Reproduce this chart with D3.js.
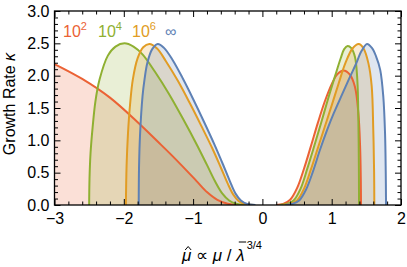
<html>
<head>
  <meta charset="utf-8" />
  <script src="https://d3js.org/d3.v7.min.js"></script>
</head>
<body style="margin: 0; background: white">
<script>

// legend labels, one per series
let seriesLabels = ['10', '10', '10', '\u221E']
let seriesSup = ['2', '4', '6', '']

// [mu, kappa] points, left and right branch for each series
let redLeft = [[-3.0,2.18],[-2.6,1.95],[-2.2,1.66],[-1.8,1.28],[-1.5,0.97],[-1.3,0.76],[-1.1,0.54],
  [-0.95,0.37],[-0.8,0.20],[-0.65,0.08],[-0.5,0.02],[-0.35,0]]
let greenLeft = [[-2.50,0],[-2.495,0.4],[-2.48,0.8],[-2.45,1.2],[-2.41,1.6],[-2.35,1.94],[-2.23,2.31],[-2.12,2.45],
  [-1.99,2.50],[-1.86,2.45],[-1.73,2.33],[-1.55,2.06],[-1.35,1.72],[-1.15,1.34],[-0.95,0.94],[-0.80,0.62],
  [-0.68,0.36],[-0.58,0.18],[-0.48,0.07],[-0.38,0.02],[-0.25,0]]
let orangeLeft = [[-1.97,0],[-1.96,0.6],[-1.94,1.1],[-1.91,1.55],[-1.87,1.94],[-1.80,2.27],[-1.72,2.44],[-1.63,2.49],
  [-1.52,2.42],[-1.39,2.22],[-1.22,1.92],[-1.05,1.58],[-0.88,1.22],[-0.72,0.87],[-0.60,0.58],[-0.50,0.33],
  [-0.42,0.16],[-0.34,0.06],[-0.25,0.015],[-0.12,0]]
let blueLeft = [[-1.785,0],[-1.78,0.6],[-1.765,1.1],[-1.73,1.68],[-1.70,1.95],[-1.66,2.2],[-1.59,2.41],[-1.51,2.49],
  [-1.42,2.43],[-1.30,2.25],[-1.15,1.96],[-1.0,1.64],[-0.84,1.28],[-0.69,0.93],[-0.57,0.63],[-0.47,0.37],
  [-0.39,0.18],[-0.31,0.07],[-0.22,0.015],[-0.10,0]]

let redRight = [[0.2,0],[0.3,0.015],[0.4,0.08],[0.5,0.26],[0.6,0.56],[0.7,0.91],[0.8,1.27],[0.9,1.60],
  [1.0,1.87],[1.08,2.02],[1.17,2.08],[1.26,2.02],[1.335,1.83],[1.385,1.42],[1.41,0.9],[1.42,0.4],[1.423,0]]
let greenRight = [[0.25,0],[0.35,0.015],[0.45,0.07],[0.55,0.25],[0.65,0.57],[0.75,0.92],[0.85,1.28],[0.95,1.65],
  [1.05,2.0],[1.13,2.27],[1.18,2.41],[1.23,2.46],[1.28,2.43],[1.336,2.29],[1.37,1.93],[1.385,1.3],
  [1.392,0.6],[1.394,0]]
let orangeRight = [[0.3,0],[0.4,0.015],[0.5,0.07],[0.6,0.25],[0.7,0.55],[0.8,0.88],[0.9,1.21],[1.0,1.54],
  [1.1,1.88],[1.2,2.2],[1.3,2.42],[1.39,2.49],[1.46,2.42],[1.53,2.19],[1.577,1.84],
  [1.60,1.16],[1.612,0.5],[1.615,0]]
let blueRight = [[0.33,0],[0.43,0.015],[0.53,0.07],[0.63,0.24],[0.73,0.52],[0.83,0.85],[0.93,1.15],[1.03,1.42],
  [1.15,1.71],[1.25,1.95],[1.35,2.18],[1.43,2.38],[1.51,2.49],[1.58,2.43],[1.64,2.3],[1.70,2.09],
  [1.745,1.67],[1.77,1.1],[1.78,0.5],[1.784,0]]

let xMajor = [-3, -2, -1, 0, 1, 2]
let yMajor = [0, 0.5, 1, 1.5, 2, 2.5, 3]

let colors = ['#EB6235', '#8FB032', '#E19C24', '#5E81B5']
let branches = [[redLeft, redRight], [greenLeft, greenRight], [orangeLeft, orangeRight], [blueLeft, blueRight]]

let font = "'Liberation Sans', Arial, sans-serif"

var svg = d3.select("body").append("svg")
  .attr("width", 407)
  .attr("height", 267)
  .style("font-family", font)

let x = d3.scaleLinear().domain([-3, 2]).range([54.5, 401])
let y = d3.scaleLinear().domain([0, 3]).range([205, 11])

svg.append("clipPath").attr("id", "plotclip")
  .append("rect")
  .attr("x", x(-3)).attr("y", y(3))
  .attr("width", x(2) - x(-3)).attr("height", y(0) - y(3))

let curve = d3.curveCatmullRom.alpha(0.5)

let area = d3.area()
  .x(d => x(d[0]))
  .y0(y(0))
  .y1(d => y(d[1]))
  .curve(curve)

let line = d3.line()
  .x(d => x(d[0]))
  .y(d => y(d[1]))
  .curve(curve)

let plot = svg.append("g").attr("clip-path", "url(#plotclip)")

// fills first, then the curves on top
branches.forEach((pair, i) => {
  pair.forEach(pts => {
    plot.append("path")
      .attr("d", area(pts))
      .attr("fill", colors[i])
      .attr("fill-opacity", 0.2)
  })
})
branches.forEach((pair, i) => {
  pair.forEach(pts => {
    plot.append("path")
      .attr("d", line(pts))
      .attr("fill", "none")
      .attr("stroke", colors[i])
      .attr("stroke-width", 2)
  })
})

// frame ticks, pointing inward on all four sides
let xMinor = d3.range(-3, 2.001, 0.2).filter(v => Math.abs(v - Math.round(v)) > 0.01)
let yMinor = d3.range(0, 3.001, 0.1).filter(v => Math.abs(v * 2 - Math.round(v * 2)) > 0.01)

function frameAxis(axisFn, scale, pos, major, minor, labels) {
  let g = svg.append("g").attr("transform", pos)
  let fmt = labels ? (axisFn === d3.axisLeft ? d3.format(".1f") : d3.format("d")) : ""
  g.append("g").call(axisFn(scale).tickValues(major).tickSize(-6).tickPadding(axisFn === d3.axisLeft ? 5 : 8).tickFormat(fmt))
  g.append("g").call(axisFn(scale).tickValues(minor).tickSize(-3.5).tickFormat(""))
  g.selectAll(".domain").remove()
  g.selectAll("line").attr("stroke", "black").attr("stroke-width", 1)
  g.selectAll("text").style("font-size", "16px").style("font-family", font).attr("fill", "black")
  return g
}

frameAxis(d3.axisBottom, x, `translate(0,${y(0)})`, xMajor, xMinor, true)
frameAxis(d3.axisTop, x, `translate(0,${y(3)})`, xMajor, xMinor, false)
frameAxis(d3.axisLeft, y, `translate(${x(-3)},0)`, yMajor, yMinor, true)
frameAxis(d3.axisRight, y, `translate(${x(2)},0)`, yMajor, yMinor, false)

svg.append("rect")
  .attr("x", x(-3)).attr("y", y(3))
  .attr("width", x(2) - x(-3)).attr("height", y(0) - y(3))
  .attr("fill", "none")
  .attr("stroke", "black")
  .attr("stroke-width", 1.3)

// legend labels
let legendX = [63, 98, 132, 165]
seriesLabels.forEach((lab, i) => {
  let t = svg.append("text")
    .attr("x", legendX[i]).attr("y", 37)
    .attr("fill", colors[i])
    .style("font-size", "16px")
    .text(lab)
  if (seriesSup[i]) {
    t.append("tspan").attr("dy", -7).style("font-size", "11px").text(seriesSup[i])
  }
})

// y axis title
let ylab = svg.append("text")
  .attr("transform", "translate(15,104) rotate(-90)")
  .attr("text-anchor", "middle")
  .style("font-size", "16px")
ylab.append("tspan").text("Growth Rate  ")
ylab.append("tspan").style("font-style", "italic").text("\u03BA")

// x axis title: mu-hat ∝ mu / lambda-bar^(3/4)
let xlab = svg.append("text")
  .attr("x", 182).attr("y", 261)
  .style("font-size", "17px")
xlab.append("tspan").style("font-style", "italic").text("\u03BC")
xlab.append("tspan").text(" \u221D ")
xlab.append("tspan").style("font-style", "italic").text("\u03BC")
xlab.append("tspan").text(" / ")
xlab.append("tspan").style("font-style", "italic").text("\u03BB")
xlab.append("tspan").attr("dx", 2).attr("dy", -12).style("font-size", "11px").text("3/4")

// hat over the first mu and bar over lambda
let node = xlab.node()
let muBox = node.getExtentOfChar(0)
let hx = muBox.x + muBox.width / 2 + 1.5
svg.append("path")
  .attr("d", `M${hx - 3},${250} L${hx},${246.5} L${hx + 3},${250}`)
  .attr("fill", "none").attr("stroke", "black").attr("stroke-width", 1)
let lamBox = node.getExtentOfChar(8)
svg.append("line")
  .attr("x1", lamBox.x + 2.5).attr("x2", lamBox.x + lamBox.width + 1.5)
  .attr("y1", 242).attr("y2", 242)
  .attr("stroke", "black").attr("stroke-width", 1)

</script>
</body>
</html>
